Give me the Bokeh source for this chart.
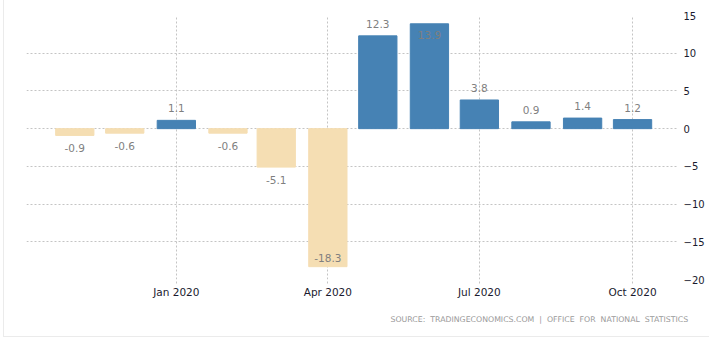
import pandas as pd
from bokeh.plotting import figure
from bokeh.models import ColumnDataSource, FixedTicker, DatetimeTickFormatter, Title, Range1d
from bokeh.core.properties import value
from bokeh.embed import file_html
from bokeh.resources import INLINE

# ---- data ----
months = ["2019-11", "2019-12", "2020-01", "2020-02", "2020-03", "2020-04",
          "2020-05", "2020-06", "2020-07", "2020-08", "2020-09", "2020-10"]
values = [-0.9, -0.6, 1.1, -0.6, -5.1, -18.3, 12.3, 13.9, 3.8, 0.9, 1.4, 1.2]
tick_dates = ["2020-01-01", "2020-04-01", "2020-07-01", "2020-10-01"]
y_ticks = [15, 10, 5, 0, -5, -10, -15, -20]
source_words = ["SOURCE:", "TRADINGECONOMICS.COM", "|", "OFFICE", "FOR", "NATIONAL", "STATISTICS"]

POS_COLOR = "#4682B4"
NEG_COLOR = "#F5DEB3"
FONT = "DejaVu Sans"

x = pd.to_datetime([m + "-01" for m in months])
y_min, y_max = -20, 15
frame_h = 264
ppu = frame_h / (y_max - y_min)

offsets = []
for v in values:
    if v >= 0:
        offsets.append(-12 if v * ppu + 18 <= y_max * ppu else 11)
    else:
        offsets.append(13 if -v * ppu + 19 <= -y_min * ppu else -9)

src = ColumnDataSource(dict(
    x=x,
    top=values,
    color=[POS_COLOR if v >= 0 else NEG_COLOR for v in values],
    label=[f"{v:.1f}" for v in values],
    yoff=offsets,
))

day = 24 * 3600 * 1000
p = figure(
    frame_width=651, frame_height=frame_h,
    x_axis_type="datetime",
    x_range=Range1d(pd.Timestamp("2019-10-03"), pd.Timestamp("2020-10-28")),
    y_range=Range1d(y_min, y_max),
    output_backend="svg", toolbar_location=None,
    y_axis_location="right",
    min_border_left=22, min_border_right=32, min_border_top=15, min_border_bottom=57,
    outline_line_color=None,
    background_fill_color="white", border_fill_color="white",
)
p.styles = {"margin-left": "3px", "border-left": "1px solid #ebebeb",
            "border-bottom": "1px solid #ebebeb"}

p.vbar(x="x", top="top", bottom=0, width=23 * day, color="color", source=src)
p.text(x="x", y="top", text="label", y_offset="yoff", source=src,
       text_align="center", text_baseline="middle",
       text_font=value(FONT), text_font_size="10.5px", text_color="#7f7f7f")

# axes
xa = p.xaxis[0]
xa.ticker = FixedTicker(ticks=[pd.Timestamp(d).value // 10**6 for d in tick_dates])
xa.formatter = DatetimeTickFormatter(months="%b %Y", days="%b %Y", years="%b %Y")
xa.axis_line_color = None
xa.major_tick_in = 0
xa.major_tick_out = 4
xa.major_tick_line_color = "#c4c4c4"
xa.major_tick_line_dash = "2 2"
xa.minor_tick_line_color = None
xa.major_label_standoff = 2
xa.major_label_text_font = FONT
xa.major_label_text_font_size = "10.5px"
xa.major_label_text_color = "#1a1a2e"

ya = p.yaxis[0]
ya.ticker = FixedTicker(ticks=y_ticks)
ya.axis_line_color = None
ya.major_tick_line_color = None
ya.minor_tick_line_color = None
ya.major_tick_out = 0
ya.major_tick_in = 0
ya.major_label_standoff = 6
ya.major_label_text_font = FONT
ya.major_label_text_font_size = "10px"
ya.major_label_text_color = "#1a1a2e"

for g in (p.xgrid[0], p.ygrid[0]):
    g.grid_line_color = "#c4c4c4"
    g.grid_line_dash = "2 2"

sep = "\u00a0\u00a0"
t = Title(text=sep.join(source_words), align="left", text_font=FONT, text_font_size="7.8px",
          text_font_style="normal", text_color="#9a9a9a", offset=364, standoff=25)
p.add_layout(t, "below")

open("out.html", "w").write(file_html(p, INLINE))
